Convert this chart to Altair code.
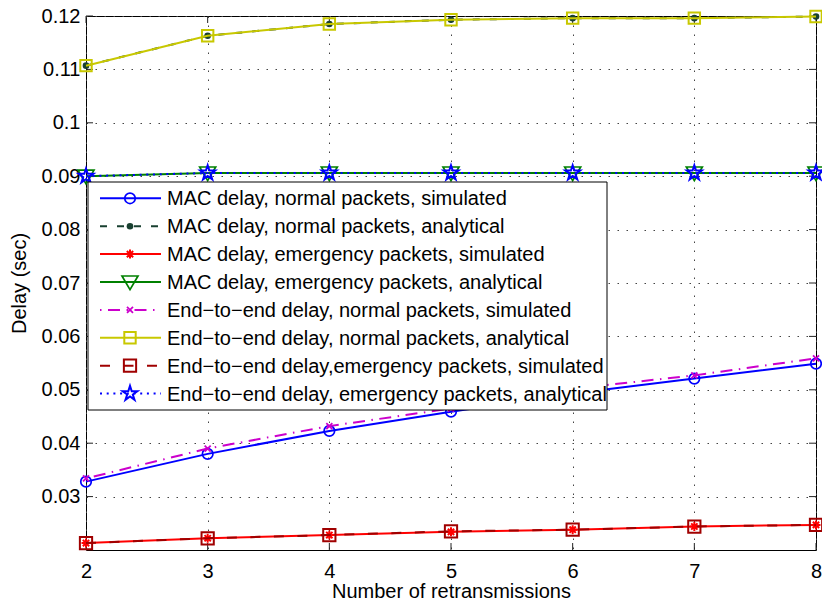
import altair as alt
import pandas as pd

# Number of retransmissions (x) and delay values in seconds for each curve
retransmissions = [2, 3, 4, 5, 6, 7, 8]
mac_normal_sim = [0.0328, 0.0380, 0.0423, 0.0459, 0.0493, 0.0521, 0.0549]
mac_normal_ana = [0.1107, 0.1163, 0.1185, 0.1193, 0.1196, 0.1196, 0.1199]
mac_emerg_sim = [0.0213, 0.0222, 0.0228, 0.0234, 0.0238, 0.0244, 0.0247]
mac_emerg_ana = [0.0900, 0.0906, 0.0906, 0.0906, 0.0906, 0.0906, 0.0906]
e2e_normal_sim = [0.0334, 0.0390, 0.0432, 0.0465, 0.0502, 0.0527, 0.0559]
e2e_normal_ana = [0.1107, 0.1163, 0.1185, 0.1193, 0.1196, 0.1196, 0.1199]
e2e_emerg_sim = [0.0213, 0.0222, 0.0228, 0.0235, 0.0238, 0.0244, 0.0247]
e2e_emerg_ana = [0.0900, 0.0906, 0.0906, 0.0906, 0.0906, 0.0906, 0.0906]

labels = [
    "MAC delay, normal packets, simulated",
    "MAC delay, normal packets, analytical",
    "MAC delay, emergency packets, simulated",
    "MAC delay, emergency packets, analytical",
    "End\u2212to\u2212end delay, normal packets, simulated",
    "End\u2212to\u2212end delay, normal packets, analytical",
    "End\u2212to\u2212end delay,emergency packets, simulated",
    "End\u2212to\u2212end delay, emergency packets, analytical",
]

x_ticks = [2, 3, 4, 5, 6, 7, 8]
y_ticks = [0.03, 0.04, 0.05, 0.06, 0.07, 0.08, 0.09, 0.10, 0.11, 0.12]

FONT = "Liberation Sans"
FS = 20
W, H = 730, 534

# marker paths in the unit square
STAR = ("M0,-1L0.225,-0.309L0.951,-0.309L0.363,0.118L0.588,0.809L0,0.382"
        "L-0.588,0.809L-0.363,0.118L-0.951,-0.309L-0.225,-0.309Z")
ASTERISK = "M-1,0L1,0M0,-1L0,1M-0.7,-0.7L0.7,0.7M-0.7,0.7L0.7,-0.7"
XMARK = "M-1,-1L1,1M-1,1L1,-1"
TRI_DOWN = "M-1,-0.75L1,-0.75L0,0.95Z"

styles = [
    dict(values=mac_normal_sim, color="#0000ff", dash=None, shape="circle", size=110, filled=False, sw=1.7),
    dict(values=mac_normal_ana, color="#184030", dash=[7, 10], shape="circle", size=44, filled=True, sw=1),
    dict(values=mac_emerg_sim, color="#ff0000", dash=None, shape=ASTERISK, size=81, filled=False, sw=2),
    dict(values=mac_emerg_ana, color="#008000", dash=None, shape=TRI_DOWN, size=256, filled=False, sw=1.7),
    dict(values=e2e_normal_sim, color="#cc00cc", dash=[1.5, 6.5, 12, 6.5], shape=XMARK, size=36, filled=False, sw=1.8),
    dict(values=e2e_normal_ana, color="#c8c800", dash=None, shape="square", size=130, filled=False, sw=2),
    dict(values=e2e_emerg_sim, color="#a00000", dash=[10, 13.5], shape="square", size=150, filled=False, sw=2),
    dict(values=e2e_emerg_ana, color="#0000ff", dash=[2, 4.7], shape=STAR, size=240, filled=False, sw=2),
]

xscale = alt.Scale(domain=[2, 8], nice=False, zero=False)
yscale = alt.Scale(domain=[0.02, 0.12], nice=False, zero=False)

xaxis = alt.Axis(
    values=x_ticks, title="Number of retransmissions", grid=True, ticks=False,
    tickSize=0, domain=False, labelPadding=11, labelFlush=False, labelOverlap=False,
    titleX=W / 2, titleY=47, titleAlign="center", titleBaseline="alphabetic",
)
yaxis = alt.Axis(
    values=y_ticks, title="Delay (sec)", grid=True, ticks=False, tickSize=0,
    domain=False, labelPadding=6, labelFlush=False, labelOverlap=False,
    format=".2~f", titleX=-67, titleY=H / 2, titleAngle=-90,
    titleAlign="center", titleBaseline="middle",
)

X = alt.X("x:Q", scale=xscale, axis=xaxis)
Y = alt.Y("y:Q", scale=yscale, axis=yaxis)

layers = []

# inward tick marks on all four sides of the box
xt = pd.DataFrame({"x": x_ticks})
yt = pd.DataFrame({"y": y_ticks})
TL = 7
layers.append(alt.Chart(xt).mark_rule(color="#222", strokeWidth=1).encode(x=X, y=alt.value(H - TL), y2=alt.value(H)))
layers.append(alt.Chart(xt).mark_rule(color="#222", strokeWidth=1).encode(x=X, y=alt.value(0), y2=alt.value(TL)))
layers.append(alt.Chart(yt).mark_rule(color="#222", strokeWidth=1).encode(y=Y, x=alt.value(0), x2=alt.value(TL)))
layers.append(alt.Chart(yt).mark_rule(color="#222", strokeWidth=1).encode(y=Y, x=alt.value(W - TL), x2=alt.value(W)))

# curves with their markers, in plotting order
for s in styles:
    df = pd.DataFrame({"x": retransmissions, "y": s["values"]})
    line_kw = dict(color=s["color"], strokeWidth=2)
    if s["dash"]:
        line_kw["strokeDash"] = s["dash"]
    layers.append(alt.Chart(df).mark_line(**line_kw).encode(x=X, y=Y))
    layers.append(
        alt.Chart(df).mark_point(
            shape=s["shape"], size=s["size"], filled=s["filled"], color=s["color"],
            strokeWidth=s["sw"], opacity=1,
        ).encode(x=X, y=Y)
    )

# legend box
one = pd.DataFrame({"k": [0]})
LX0, LX1, LY0, LY1 = 2, 521, 166, 394
layers.append(
    alt.Chart(one).mark_rect(fill="white", stroke="black", strokeWidth=1).encode(
        x=alt.value(LX0), x2=alt.value(LX1), y=alt.value(LY0), y2=alt.value(LY1)
    )
)
ROW0, ROWSTEP = 182.3, 27.9
for i, (s, lab) in enumerate(zip(styles, labels)):
    ry = ROW0 + i * ROWSTEP
    rule_kw = dict(color=s["color"], strokeWidth=2)
    if s["dash"]:
        rule_kw["strokeDash"] = s["dash"]
    layers.append(
        alt.Chart(one).mark_rule(**rule_kw).encode(
            x=alt.value(14), x2=alt.value(75), y=alt.value(ry)
        )
    )
    layers.append(
        alt.Chart(one).mark_point(
            shape=s["shape"], size=s["size"], filled=s["filled"], color=s["color"],
            strokeWidth=s["sw"], opacity=1,
        ).encode(x=alt.value(44), y=alt.value(ry))
    )
    layers.append(
        alt.Chart(one).mark_text(
            align="left", baseline="middle", font=FONT, fontSize=FS, color="black"
        ).encode(x=alt.value(81), y=alt.value(ry + 1), text=alt.value(lab))
    )

chart = (
    alt.layer(*layers)
    .properties(
        width=W, height=H,
        padding={"left": 86, "top": 16, "right": 6, "bottom": 51},
        autosize=alt.AutoSizeParams(type="none"),
        background="white",
    )
    .configure_view(stroke="black", strokeWidth=1)
    .configure_axis(
        labelFont=FONT, labelFontSize=FS, labelColor="black",
        titleFont=FONT, titleFontSize=FS, titleFontWeight="normal", titleColor="black",
        gridColor="#444", gridDash=[1.5, 7.5], gridWidth=1, gridOpacity=1,
    )
)

chart.save("out.html", embed_options={"renderer": "svg", "actions": False})
